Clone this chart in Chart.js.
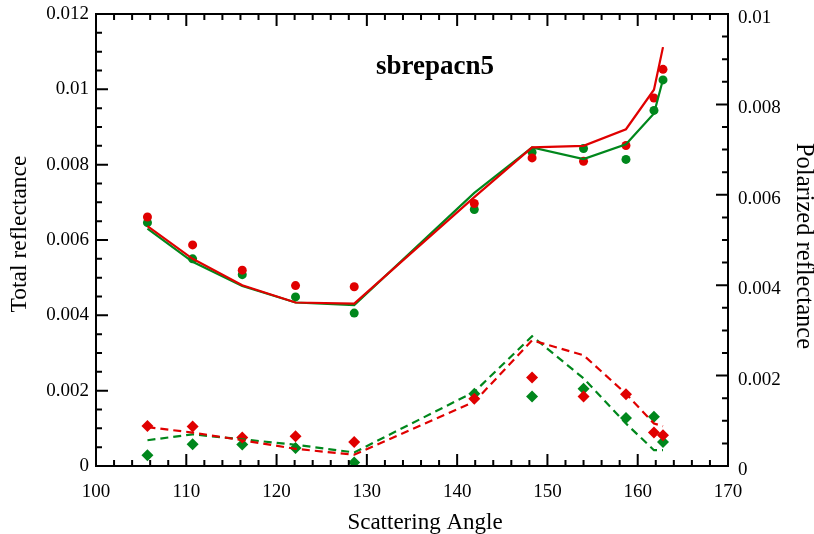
<!DOCTYPE html>
<html>
<head>
<meta charset="utf-8">
<title>sbrepacn5</title>
<script src="https://cdn.jsdelivr.net/npm/chart.js@4.4.0/dist/chart.umd.min.js"></script>
<style>
  body { margin: 0; background: #fff; }
  #wrap { width: 814px; height: 534px; }
</style>
</head>
<body>
<div id="wrap"><canvas id="chart"></canvas></div>
<script>
// scattering angles (deg)
const angles = [105.7, 110.7, 116.2, 122.1, 128.6, 141.9, 148.3, 154.0, 158.7, 161.8, 162.8];

// total reflectance, measured (dots) and model (solid lines) - left axis
const totalRedObs     = [0.00661, 0.00587, 0.00520, 0.00479, 0.00476, 0.00697, 0.00818, 0.00809, 0.00851, 0.00977, 0.01053];
const totalGreenObs   = [0.00646, 0.00550, 0.00508, 0.00449, 0.00406, 0.00681, 0.00833, 0.00843, 0.00814, 0.00944, 0.01025];
const totalRedModel   = [0.00637, 0.00550, 0.00480, 0.00434, 0.00431, 0.00714, 0.00846, 0.00850, 0.00894, 0.00999, 0.01112];
const totalGreenModel = [0.00630, 0.00542, 0.00478, 0.00434, 0.00427, 0.00725, 0.00846, 0.00815, 0.00854, 0.00936, 0.01026];

// polarized reflectance, measured (diamonds) and model (dashed lines) - right axis
const polRedObs     = [0.000886, 0.000872, 0.000629, 0.000658, 0.000532, 0.00149, 0.00196, 0.00154, 0.00159, 0.00074, 0.00068];
const polGreenObs   = [0.000237, 0.000480, 0.000474, 0.000400, 0.000080, 0.00160, 0.00154, 0.00171, 0.00106, 0.00109, 0.00053];
const polRedModel   = [0.00086, 0.00074, 0.00057, 0.00038, 0.00025, 0.00142, 0.00278, 0.00245, 0.00160, 0.00094, 0.00088];
const polGreenModel = [0.00057, 0.00070, 0.00059, 0.00047, 0.00030, 0.00164, 0.00287, 0.00194, 0.00094, 0.00035, 0.00035];

const RED = '#e00000';
const GREEN = '#00871c';

// pair angles with values for the linear x scale
function pts(vals) {
  return angles.map((a, i) => ({ x: a, y: vals[i] }));
}

function modelSet(vals, color, axis, dashed) {
  return {
    data: pts(vals), yAxisID: axis, showLine: true,
    borderColor: color, borderWidth: 2.2, pointRadius: 0,
    borderDash: dashed ? [8, 5] : [], tension: 0
  };
}
function obsSet(vals, color, axis, style, r) {
  return {
    data: pts(vals), yAxisID: axis, showLine: false,
    pointStyle: style, pointRadius: r,
    backgroundColor: color, borderColor: color, pointBorderWidth: 0
  };
}

const serif = '"Liberation Serif", "DejaVu Serif", serif';

// frame, inward ticks and text labels
const decor = {
  id: 'decor',
  afterDraw(chart) {
    const { ctx, chartArea: a, scales } = chart;
    const x = scales.x, yl = scales.yL, yr = scales.yR;
    ctx.save();
    ctx.strokeStyle = '#000';
    ctx.lineWidth = 2;
    ctx.strokeRect(a.left, a.top, a.right - a.left, a.bottom - a.top);
    ctx.beginPath();
    for (let i = 0; i <= 35; i++) {
      const v = 100 + 2 * i;
      const len = (v % 10 === 0) ? 12 : 6;
      const px = x.getPixelForValue(v);
      ctx.moveTo(px, a.bottom); ctx.lineTo(px, a.bottom - len);
      ctx.moveTo(px, a.top); ctx.lineTo(px, a.top + len);
    }
    for (let i = 0; i <= 24; i++) {
      const len = (i % 4 === 0) ? 12 : 6;
      const py = yl.getPixelForValue(i * 0.0005);
      ctx.moveTo(a.left, py); ctx.lineTo(a.left + len, py);
    }
    for (let i = 0; i <= 20; i++) {
      const len = (i % 4 === 0) ? 12 : 6;
      const py = yr.getPixelForValue(i * 0.0005);
      ctx.moveTo(a.right, py); ctx.lineTo(a.right - len, py);
    }
    ctx.stroke();

    ctx.fillStyle = '#000';
    ctx.textAlign = 'center';
    ctx.textBaseline = 'middle';
    ctx.font = 'bold 27px ' + serif;
    ctx.fillText('sbrepacn5', 435, 67);

    ctx.font = '23px ' + serif;
    ctx.fillText('Scattering Angle', 425, 523);

    ctx.save();
    ctx.translate(20, 234);
    ctx.rotate(-Math.PI / 2);
    ctx.font = '23.5px ' + serif;
    ctx.fillText('Total reflectance', 0, 0);
    ctx.restore();

    ctx.save();
    ctx.translate(803, 246);
    ctx.rotate(Math.PI / 2);
    ctx.font = '24.5px ' + serif;
    ctx.fillText('Polarized reflectance', 0, 0);
    ctx.restore();
    ctx.restore();
  }
};

const tickFont = { family: serif, size: 19 };
const fmt = v => String(+v.toFixed(4));
const noGrid = { display: false, drawTicks: false };

new Chart(document.getElementById('chart'), {
  type: 'scatter',
  data: {
    datasets: [
      modelSet(totalRedModel, RED, 'yL', false),
      modelSet(totalGreenModel, GREEN, 'yL', false),
      modelSet(polRedModel, RED, 'yR', true),
      modelSet(polGreenModel, GREEN, 'yR', true),
      obsSet(totalRedObs, RED, 'yL', 'circle', 4.5),
      obsSet(totalGreenObs, GREEN, 'yL', 'circle', 4.5),
      obsSet(polRedObs, RED, 'yR', 'rectRot', 6),
      obsSet(polGreenObs, GREEN, 'yR', 'rectRot', 6)
    ]
  },
  options: {
    responsive: true,
    maintainAspectRatio: false,
    animation: false,
    layout: { padding: { top: 14, left: 0, right: 0, bottom: 0 } },
    plugins: { legend: { display: false }, tooltip: { enabled: false } },
    scales: {
      x: {
        type: 'linear', min: 100, max: 170,
        grid: noGrid, border: { display: false },
        ticks: { stepSize: 10, font: tickFont, color: '#000', padding: 15, maxRotation: 0 },
        afterFit: s => { s.height = 68; s.paddingLeft = 0; s.paddingRight = 0; }
      },
      yL: {
        position: 'left', min: 0, max: 0.012,
        grid: noGrid, border: { display: false },
        ticks: { stepSize: 0.002, font: tickFont, color: '#000', padding: 7, callback: fmt },
        afterFit: s => { s.width = 96; s.paddingTop = 0; s.paddingBottom = 0; }
      },
      yR: {
        position: 'right', min: 0, max: 0.01,
        grid: noGrid, border: { display: false },
        ticks: { stepSize: 0.002, font: tickFont, color: '#000', padding: 10, labelOffset: 4, callback: fmt },
        afterFit: s => { s.width = 86; s.paddingTop = 0; s.paddingBottom = 0; }
      }
    }
  },
  plugins: [decor]
});
</script>
</body>
</html>
